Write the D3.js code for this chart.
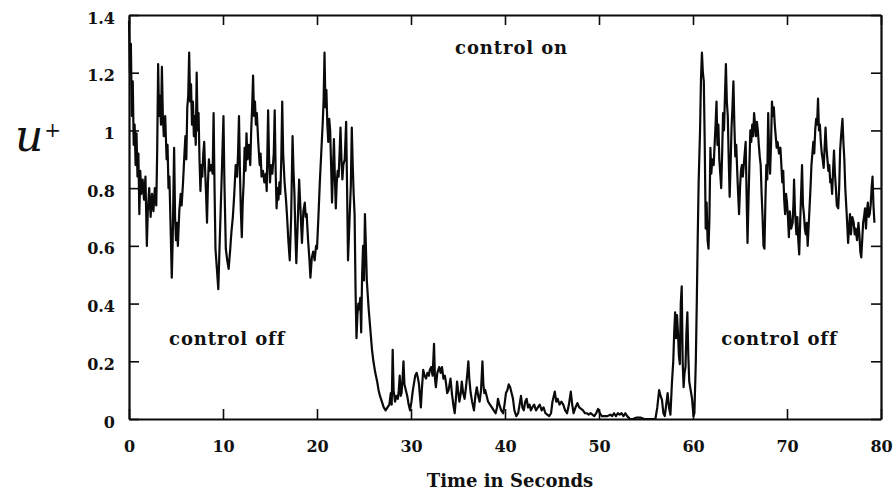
<!DOCTYPE html>
<html>
<head>
<meta charset="utf-8">
<script src="https://cdn.jsdelivr.net/npm/d3@7"></script>
<style>
  html, body { margin: 0; padding: 0; background: #fff; }
  svg { display: block; }
  text { font-family: "DejaVu Serif", "Liberation Serif", serif; fill: #111; }
</style>
</head>
<body>
<script>
// ---- data ----
const xTicks = [0, 10, 20, 30, 40, 50, 60, 70, 80];
const yTicks = [0, 0.2, 0.4, 0.6, 0.8, 1, 1.2, 1.4];
const yTickLabels = ["0", "0.2", "0.4", "0.6", "0.8", "1", "1.2", "1.4"];
const xLabel = "Time in Seconds";
const annotations = ["control on", "control off", "control off"];
const annotationTimes = [40.7, 10.45, 69.2];
const annotationValues = [1.265, 0.258, 0.258];

const time = [
0.0,0.1,0.2,0.3,0.4,0.5,0.6,0.7,0.8,0.9,1.0,1.1,1.2,1.3,1.45,1.6,1.75,1.9,2.0,2.15,2.3,2.45,2.6,2.75,2.9,
3.0,3.1,3.2,3.3,3.4,3.5,3.6,3.7,3.85,4.0,4.1,4.2,4.3,4.4,4.55,4.65,4.8,4.9,5.0,5.1,5.2,5.35,5.5,5.6,5.75,5.9,
6.0,6.1,6.2,6.3,6.4,6.5,6.6,6.7,6.8,6.9,7.0,7.1,7.2,7.3,7.4,7.5,7.6,7.7,7.8,7.9,8.0,8.1,8.2,8.3,8.4,8.5,8.6,8.75,8.9,
9.0,9.1,9.2,9.35,9.5,9.6,9.75,9.9,10.05,10.15,10.3,10.45,10.6,10.75,10.9,11.05,11.2,11.35,11.5,11.6,11.7,11.8,11.9,
12.0,12.1,12.2,12.3,12.4,12.5,12.6,12.75,12.9,13.0,13.1,13.2,13.3,13.4,13.5,13.6,13.75,13.9,14.0,14.1,14.25,14.4,14.55,14.65,14.8,14.9,
15.0,15.1,15.25,15.4,15.5,15.6,15.7,15.8,15.9,16.0,16.1,16.2,16.3,16.4,16.55,16.7,16.8,16.95,17.1,17.25,17.4,17.5,17.6,17.7,17.8,17.95,
18.1,18.25,18.4,18.55,18.7,18.8,18.9,19.05,19.2,19.3,19.45,19.6,19.75,19.9,20.0,20.15,20.3,20.45,20.6,20.7,20.8,20.9,
21.0,21.1,21.2,21.3,21.4,21.5,21.6,21.7,21.8,21.9,22.0,22.1,22.2,22.3,22.4,22.5,22.6,22.7,22.8,22.95,23.1,23.2,23.3,23.45,23.6,23.7,23.8,23.9,
24.0,24.1,24.2,24.3,24.4,24.5,24.6,24.7,24.8,24.9,25.0,25.1,25.2,25.3,25.5,25.7,25.85,26.0,26.2,26.4,26.55,26.7,26.9,27.1,27.3,27.5,27.7,27.85,27.95,
28.05,28.15,28.3,28.45,28.6,28.7,28.8,28.9,29.0,29.1,29.2,29.3,29.45,29.6,29.75,29.9,30.05,30.2,30.3,30.45,30.6,30.75,30.85,30.95,
31.05,31.15,31.3,31.45,31.6,31.75,31.9,32.0,32.15,32.3,32.45,32.55,32.65,32.8,33.0,33.15,33.3,33.45,33.6,33.7,33.85,34.0,34.2,34.35,34.5,34.65,34.8,34.9,
35.0,35.15,35.3,35.4,35.55,35.7,35.85,36.0,36.1,36.2,36.35,36.5,36.7,36.85,37.0,37.15,37.3,37.45,37.6,37.7,37.8,37.9,38.05,38.2,38.4,38.6,38.8,
39.0,39.15,39.25,39.4,39.6,39.8,39.95,40.1,40.25,40.4,40.55,40.7,40.85,41.0,41.2,41.4,41.55,41.7,41.85,42.0,42.15,42.3,42.45,42.6,42.75,42.9,
43.1,43.3,43.5,43.7,43.9,44.1,44.3,44.5,44.7,44.9,45.05,45.3,45.45,45.6,45.8,46.0,46.2,46.4,46.6,46.8,47.0,47.15,47.3,47.5,47.7,47.9,
48.1,48.3,48.5,48.7,48.9,49.1,49.3,49.5,49.7,49.9,50.1,50.3,50.6,50.9,51.2,51.4,51.6,51.8,52.0,52.2,52.4,52.6,52.8,53.0,53.3,53.6,
54.0,54.4,54.8,55.2,55.6,56.0,56.2,56.4,56.55,56.7,56.85,57.0,57.15,57.3,57.45,57.6,57.75,57.9,58.0,58.1,58.2,58.3,58.4,58.5,58.6,58.7,58.8,58.9,
59.0,59.1,59.2,59.3,59.4,59.5,59.6,59.75,59.9,60.05,60.15,60.3,60.4,60.5,60.6,60.75,60.85,60.95,61.05,61.15,61.25,61.35,61.45,61.55,61.65,61.75,61.85,61.95,
62.05,62.2,62.3,62.4,62.5,62.6,62.7,62.8,62.9,63.0,63.1,63.2,63.3,63.4,63.5,63.6,63.7,63.8,63.9,64.0,64.1,64.2,64.3,64.4,64.5,64.6,64.75,64.9,
65.0,65.1,65.2,65.3,65.45,65.6,65.7,65.8,65.9,66.0,66.1,66.2,66.3,66.4,66.5,66.6,66.7,66.8,66.9,67.0,67.1,67.2,67.3,67.4,67.5,67.6,67.7,67.8,67.9,
68.0,68.1,68.2,68.3,68.4,68.5,68.6,68.7,68.8,68.9,69.0,69.15,69.3,69.4,69.5,69.6,69.7,69.8,69.9,70.0,70.1,70.2,70.3,70.45,70.6,70.7,70.75,70.85,
71.0,71.1,71.2,71.3,71.4,71.5,71.6,71.7,71.8,71.9,72.0,72.1,72.2,72.35,72.5,72.6,72.7,72.8,72.9,73.0,73.1,73.2,73.3,73.4,73.5,73.6,73.7,73.8,73.9,
74.0,74.1,74.2,74.3,74.4,74.5,74.6,74.7,74.8,74.9,75.0,75.1,75.2,75.3,75.45,75.55,75.65,75.75,75.9,76.0,76.1,76.2,76.3,76.4,76.5,76.6,76.7,76.8,76.95,
77.1,77.2,77.3,77.45,77.6,77.7,77.8,77.9,78.0,78.1,78.2,78.3,78.4,78.5,78.6,78.7,78.8,78.9,79.0,79.1,79.2,79.3
];

const uPlus = [
1.38,1.2,1.3,1.05,1.17,0.95,1.02,0.88,0.99,0.84,0.92,0.71,0.86,0.78,0.83,0.76,0.84,0.60,0.72,0.80,0.70,0.78,0.72,0.80,0.74,
0.93,1.23,1.05,1.12,1.02,1.22,1.05,0.98,1.05,0.90,0.95,0.80,0.84,0.70,0.49,0.62,0.94,0.70,0.62,0.68,0.60,0.72,0.78,0.74,0.82,0.92,
0.98,0.90,1.08,1.12,1.27,1.10,1.16,1.02,1.10,0.98,1.05,0.95,1.20,1.00,1.06,0.90,0.79,0.88,0.84,0.92,0.96,0.86,0.78,0.68,0.82,0.90,0.86,0.88,0.85,
1.06,0.80,0.59,0.52,0.45,0.56,0.72,0.88,1.05,0.82,0.59,0.55,0.52,0.58,0.65,0.70,0.78,0.88,0.84,0.92,1.05,0.86,0.72,
0.63,0.75,0.82,0.94,0.86,0.99,0.90,0.95,0.88,1.0,1.08,1.19,1.05,1.10,1.02,1.06,0.96,0.88,0.92,0.84,0.86,0.82,0.85,0.79,1.07,0.90,
0.82,0.88,0.85,0.92,1.07,0.86,0.73,0.80,0.76,0.82,0.78,0.90,1.10,0.92,0.82,0.76,0.71,0.62,0.55,0.70,0.98,0.86,0.78,0.64,0.54,0.68,
0.83,0.72,0.61,0.72,0.75,0.70,0.71,0.62,0.55,0.49,0.56,0.58,0.55,0.60,0.59,0.70,0.82,0.92,1.02,1.10,1.27,1.08,
1.14,1.02,0.96,1.04,1.00,0.88,0.75,0.86,0.97,0.84,0.73,0.82,0.86,0.84,0.92,1.01,0.90,0.83,0.88,0.90,1.03,0.80,0.55,0.68,0.81,1.01,0.88,0.78,
0.71,0.45,0.28,0.36,0.40,0.38,0.42,0.30,0.50,0.60,0.48,0.71,0.60,0.48,0.38,0.30,0.24,0.20,0.16,0.13,0.10,0.08,0.06,0.04,0.03,0.04,0.05,0.09,0.05,
0.24,0.10,0.06,0.08,0.07,0.10,0.15,0.08,0.09,0.14,0.20,0.12,0.10,0.08,0.05,0.03,0.06,0.10,0.12,0.15,0.16,0.14,0.12,0.08,
0.04,0.10,0.17,0.15,0.14,0.16,0.15,0.17,0.18,0.15,0.26,0.14,0.11,0.16,0.18,0.16,0.18,0.14,0.15,0.13,0.09,0.10,0.14,0.09,0.05,0.02,0.08,0.13,
0.10,0.06,0.09,0.13,0.09,0.07,0.11,0.16,0.20,0.14,0.09,0.06,0.03,0.08,0.11,0.08,0.06,0.10,0.20,0.12,0.09,0.10,0.08,0.06,0.05,0.04,0.03,
0.02,0.04,0.07,0.05,0.03,0.02,0.05,0.09,0.10,0.12,0.11,0.09,0.07,0.03,0.01,0.02,0.05,0.08,0.04,0.03,0.06,0.07,0.04,0.05,0.03,0.04,
0.05,0.03,0.04,0.05,0.03,0.04,0.02,0.015,0.01,0.02,0.06,0.095,0.06,0.07,0.05,0.06,0.05,0.03,0.02,0.05,0.095,0.05,0.02,0.04,0.055,0.04,
0.035,0.03,0.02,0.02,0.015,0.02,0.015,0.01,0.02,0.035,0.02,0.01,0.01,0.01,0.015,0.01,0.02,0.01,0.02,0.015,0.02,0.01,0.02,0.01,0.0,0.0,
0.005,0.005,0.0,0.0,0.0,0.0,0.04,0.10,0.08,0.066,0.02,0.01,0.05,0.09,0.04,0.015,0.12,0.20,0.30,0.37,0.28,0.36,0.30,0.22,0.19,0.40,0.46,0.20,
0.11,0.16,0.18,0.30,0.37,0.22,0.13,0.10,0.07,0.01,0.02,0.20,0.40,0.62,0.82,1.0,1.18,1.27,1.20,1.17,0.95,0.66,0.75,0.62,0.59,0.70,0.94,0.85,
0.90,0.88,0.95,1.02,1.10,0.95,1.02,0.90,0.85,0.80,0.92,1.06,1.00,1.12,1.23,1.10,1.05,0.90,0.77,0.88,1.01,1.08,1.17,1.02,0.91,0.95,0.82,0.71,
0.80,0.86,0.88,0.84,0.90,0.96,0.78,0.61,0.75,0.88,1.0,0.96,1.02,0.98,1.06,1.02,0.98,1.03,1.0,0.95,0.91,0.88,0.78,0.70,0.60,0.59,0.75,0.88,0.83,
1.06,0.92,0.85,0.95,1.10,1.05,1.08,1.02,0.98,0.94,0.96,0.92,0.94,0.88,0.82,0.86,0.76,0.71,0.78,0.75,0.70,0.63,0.72,0.66,0.68,0.76,0.83,0.72,
0.64,0.70,0.62,0.57,0.68,0.78,0.88,0.74,0.71,0.66,0.64,0.68,0.60,0.70,0.80,0.88,0.92,0.96,0.92,1.0,1.04,1.02,1.11,1.00,1.02,0.96,0.92,0.90,0.87,
0.94,1.01,0.94,0.90,0.86,0.88,0.82,0.83,0.78,0.86,0.93,0.85,0.80,0.74,0.73,0.80,0.93,0.98,1.04,0.96,0.90,0.80,0.74,0.68,0.61,0.66,0.71,0.64,0.70,
0.68,0.64,0.66,0.62,0.68,0.64,0.58,0.56,0.62,0.68,0.70,0.73,0.66,0.72,0.75,0.70,0.71,0.74,0.80,0.84,0.74,0.68
];

// ---- layout ----
const W = 894, H = 492;
const margin = { left: 129, right: 13, top: 15, bottom: 73 };
const iw = W - margin.left - margin.right;
const ih = H - margin.top - margin.bottom;

const svg = d3.select("body").append("svg").attr("width", W).attr("height", H);
const g = svg.append("g").attr("transform", `translate(${margin.left},${margin.top})`);

const x = d3.scaleLinear().domain([0, 80]).range([0, iw]);
const y = d3.scaleLinear().domain([0, 1.4]).range([ih, 0]);

const data = time.map((t, i) => ({ t, v: uPlus[i] }));

// series line
g.append("path")
  .datum(data)
  .attr("fill", "none")
  .attr("stroke", "#0a0a0a")
  .attr("stroke-width", 2.2)
  .attr("stroke-linejoin", "round")
  .attr("d", d3.line().x(d => x(d.t)).y(d => y(d.v)));

// axes with inward ticks
const tickLen = 10;
const fmtY = d => yTickLabels[yTicks.indexOf(d)];

const axBottom = g.append("g").attr("transform", `translate(0,${ih})`)
  .call(d3.axisBottom(x).tickValues(xTicks).tickSizeInner(-tickLen).tickSizeOuter(0).tickPadding(22));
const axTop = g.append("g")
  .call(d3.axisTop(x).tickValues(xTicks).tickSizeInner(-tickLen).tickSizeOuter(0).tickFormat(""));
const axLeft = g.append("g")
  .call(d3.axisLeft(y).tickValues(yTicks).tickSizeInner(-tickLen).tickSizeOuter(0).tickPadding(14).tickFormat(fmtY));
const axRight = g.append("g").attr("transform", `translate(${iw},0)`)
  .call(d3.axisRight(y).tickValues(yTicks).tickSizeInner(-tickLen).tickSizeOuter(0).tickFormat(""));

[axBottom, axTop, axLeft, axRight].forEach(a => {
  a.selectAll(".domain").attr("stroke", "#0a0a0a").attr("stroke-width", 2.2);
  a.selectAll(".tick line").attr("stroke", "#0a0a0a").attr("stroke-width", 1.6);
  a.selectAll("text").attr("font-family", "DejaVu Serif").attr("font-weight", "bold")
    .attr("font-size", 16).attr("fill", "#111");
});
axLeft.selectAll("text").attr("dy", "0.5em");

// annotations
annotations.forEach((txt, i) => {
  g.append("text")
    .attr("x", x(annotationTimes[i]))
    .attr("y", y(annotationValues[i]))
    .attr("text-anchor", "middle")
    .attr("font-size", 18)
    .attr("font-weight", "bold")
    .attr("letter-spacing", 0.9)
    .text(txt);
});

// x label
svg.append("text")
  .attr("x", margin.left + iw / 2 + 5)
  .attr("y", 487)
  .attr("text-anchor", "middle")
  .attr("font-size", 18)
  .attr("font-weight", "bold")
  .text(xLabel);

// y label: u+
const yl = svg.append("text").attr("x", 15).attr("y", 151)
  .attr("font-family", "DejaVu Serif").attr("font-style", "italic");
yl.append("tspan").attr("font-size", 44).text("u");
yl.append("tspan").attr("font-size", 20).attr("dy", -14).attr("dx", 1).text("+");
</script>
</body>
</html>
